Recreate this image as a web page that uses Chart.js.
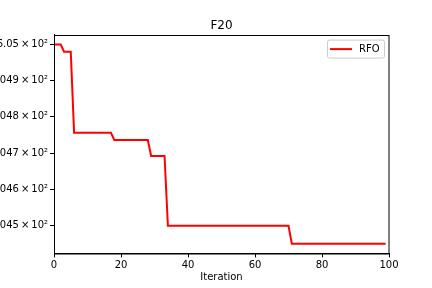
<!DOCTYPE html>
<html>
<head>
<meta charset="utf-8">
<script src="https://cdn.jsdelivr.net/npm/chart.js@4/dist/chart.umd.min.js"></script>
<style>
html,body{margin:0;padding:0;background:#fff;overflow:hidden;}
#wrap{position:relative;width:432px;height:288px;}
</style>
</head>
<body>
<div id="wrap"><canvas id="c" width="432" height="288"></canvas></div>
<script>
const chartTitle = 'F20';
const seriesLabel = 'RFO';
const xTitle = 'Iteration';
// best fitness per iteration
const rfoValues = [
  605.000, 605.000, 605.000,
  604.980, 604.980, 604.980,
  604.756, 604.756, 604.756, 604.756, 604.756, 604.756,
  604.756, 604.756, 604.756, 604.756, 604.756, 604.756,
  604.736, 604.736, 604.736, 604.736, 604.736, 604.736,
  604.736, 604.736, 604.736, 604.736, 604.736,
  604.692, 604.692, 604.692, 604.692, 604.692,
  604.499, 604.499, 604.499, 604.499, 604.499, 604.499, 604.499, 604.499,
  604.499, 604.499, 604.499, 604.499, 604.499, 604.499, 604.499, 604.499,
  604.499, 604.499, 604.499, 604.499, 604.499, 604.499, 604.499, 604.499,
  604.499, 604.499, 604.499, 604.499, 604.499, 604.499, 604.499, 604.499,
  604.499, 604.499, 604.499, 604.499, 604.499,
  604.449, 604.449, 604.449, 604.449, 604.449, 604.449, 604.449, 604.449,
  604.449, 604.449, 604.449, 604.449, 604.449, 604.449, 604.449, 604.449,
  604.449, 604.449, 604.449, 604.449, 604.449, 604.449, 604.449, 604.449,
  604.449, 604.449, 604.449, 604.449, 604.449
];
const iterations = rfoValues.map((_, i) => i);
const yTickValues = [604.5, 604.6, 604.7, 604.8, 604.9, 605.0];
const yTickLabels = ['6.045\u2009×\u200910²', '6.046\u2009×\u200910²', '6.047\u2009×\u200910²', '6.048\u2009×\u200910²', '6.049\u2009×\u200910²', '6.05\u2009×\u200910²'];
const xTickValues = [0, 20, 40, 60, 80, 100];

const FONT = 'DejaVu Sans';

const framePlugin = {
  id: 'frame',
  beforeDraw(chart) {
    // center the title over the plot area, as the original does
    const a = chart.chartArea;
    if (chart.titleBlock) {
      chart.titleBlock.left = a.left;
      chart.titleBlock.right = a.right;
    }
  },
  afterDatasetsDraw(chart) {
    const {ctx, chartArea: a} = chart;
    ctx.save();
    ctx.strokeStyle = '#000';
    ctx.lineWidth = 1;
    ctx.strokeRect(Math.round(a.left) + 0.5, Math.round(a.top) + 0.5,
                   Math.round(a.right - a.left) - 1 + 0.5, Math.round(a.bottom - a.top) - 0.5);
    ctx.restore();
  },
  afterDraw(chart) {
    const {ctx, chartArea: a} = chart;
    const ds = chart.data.datasets[0];
    const right = a.right - 5, top = a.top + 5;
    const w = 57, h = 18;
    const left = right - w;
    ctx.save();
    ctx.fillStyle = 'rgba(255,255,255,0.8)';
    ctx.strokeStyle = '#cccccc';
    ctx.lineWidth = 1;
    ctx.beginPath();
    if (ctx.roundRect) ctx.roundRect(left + 0.5, top + 0.5, w, h, 2); else ctx.rect(left + 0.5, top + 0.5, w, h);
    ctx.fill();
    ctx.stroke();
    ctx.strokeStyle = ds.borderColor;
    ctx.lineWidth = 2;
    ctx.beginPath();
    ctx.moveTo(left + 3, top + 9.5);
    ctx.lineTo(left + 25, top + 9.5);
    ctx.stroke();
    ctx.fillStyle = '#000';
    ctx.font = '10px ' + FONT;
    ctx.textBaseline = 'middle';
    ctx.textAlign = 'left';
    ctx.fillText(ds.label, left + 32, top + 9.5);
    ctx.restore();
  }
};

new Chart(document.getElementById('c'), {
  type: 'line',
  data: {
    labels: iterations,
    datasets: [{
      label: seriesLabel,
      data: iterations.map((x, i) => ({x: x, y: rfoValues[i]})),
      borderColor: '#ff0000',
      borderWidth: 2,
      pointRadius: 0,
      fill: false,
      tension: 0
    }]
  },
  options: {
    responsive: false,
    animation: false,
    devicePixelRatio: 1,
    layout: {padding: {left: 0, right: 43, top: 0, bottom: 0}},
    plugins: {
      legend: {display: false},
      tooltip: {enabled: false},
      title: {
        display: true,
        text: chartTitle,
        color: '#000',
        font: {family: FONT, size: 12, weight: 'normal'},
        padding: {top: 19, bottom: 1.2}
      }
    },
    scales: {
      x: {
        type: 'linear',
        min: 0,
        max: 100,
        afterBuildTicks(s) { s.ticks = xTickValues.map(v => ({value: v})); },
        afterFit(s) { s.height = 34.6; },
        grid: {display: true, drawOnChartArea: false, drawTicks: true, tickLength: 4, color: '#000', tickColor: '#000'},
        border: {display: true, color: '#000'},
        ticks: {color: '#000', font: {family: FONT, size: 10}, padding: 2, maxRotation: 0},
        title: {display: true, text: xTitle, color: '#000', font: {family: FONT, size: 10}, padding: {top: 1, bottom: 5}}
      },
      y: {
        type: 'logarithmic',
        min: 604.4225,
        max: 605.0275,
        afterBuildTicks(s) { s.ticks = yTickValues.map(v => ({value: v})); },
        afterFit(s) { s.width = 54; },
        grid: {display: true, drawOnChartArea: false, drawTicks: true, tickLength: 4, color: '#000', tickColor: '#000'},
        border: {display: true, color: '#000'},
        ticks: {
          color: '#000',
          font: {family: FONT, size: 10},
          padding: 2,
          callback(value) {
            const i = yTickValues.findIndex(v => Math.abs(v - value) < 1e-6);
            return i >= 0 ? yTickLabels[i] : '';
          }
        }
      }
    }
  },
  plugins: [framePlugin]
});
</script>
</body>
</html>
